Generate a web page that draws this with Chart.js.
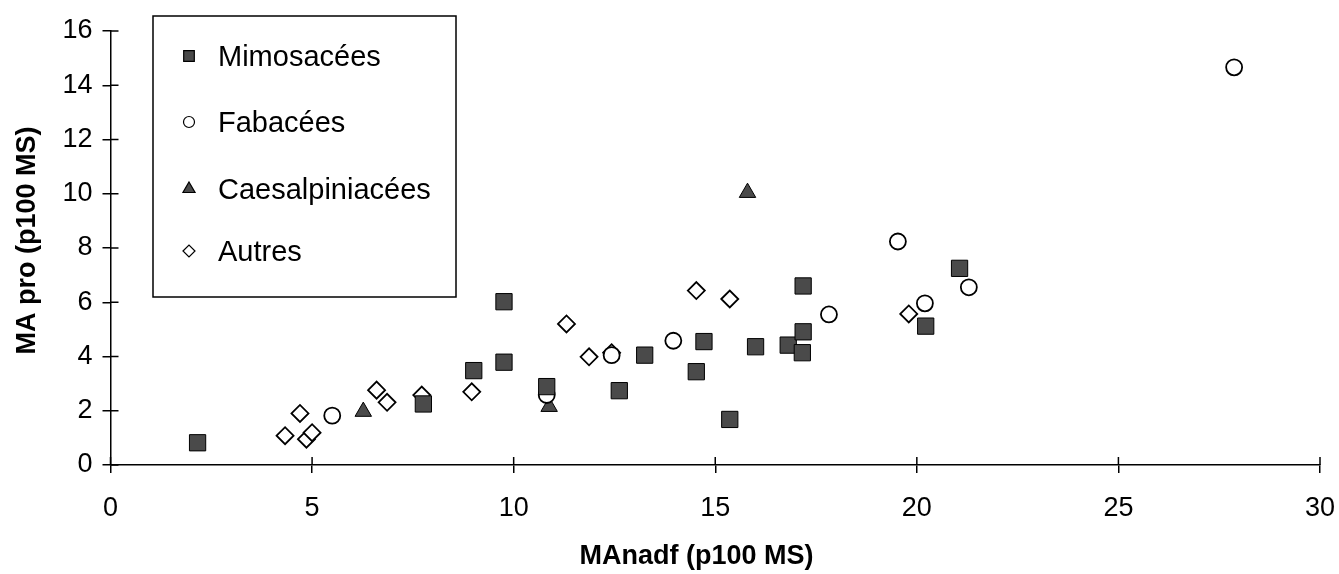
<!DOCTYPE html>
<html>
<head>
<meta charset="utf-8">
<script src="https://cdn.jsdelivr.net/npm/chart.js@4"></script>
<style>
  html, body { margin: 0; padding: 0; background: #fff; overflow: hidden; }
  #wrap { width: 1339px; height: 574px; }
</style>
</head>
<body>
<div id="wrap"><canvas id="myChart"></canvas></div>
<script>
// données (MAnadf, MA pro)
const mimoX = [2.16, 7.76, 9.01, 9.76, 9.76, 10.82, 12.62, 13.25, 14.53, 14.72, 15.36, 16.0, 16.81, 17.18, 17.18, 17.16, 21.06, 20.22];
const mimoY = [0.82, 2.25, 3.48, 6.02, 3.79, 2.89, 2.74, 4.05, 3.44, 4.55, 1.68, 4.36, 4.42, 6.60, 4.91, 4.14, 7.25, 5.12];

const fabaX = [5.50, 10.82, 12.43, 13.96, 17.82, 19.53, 20.20, 21.29, 27.87];
const fabaY = [1.82, 2.58, 4.05, 4.58, 5.55, 8.24, 5.96, 6.55, 14.66];

const caesX = [6.27, 10.88, 15.80];
const caesY = [1.97, 2.15, 10.04];

const autX = [4.33, 4.70, 4.86, 5.00, 6.60, 6.86, 7.72, 8.96, 11.31, 11.87, 12.43, 14.53, 15.36, 19.80];
const autY = [1.08, 1.90, 0.95, 1.19, 2.76, 2.31, 2.58, 2.70, 5.20, 3.99, 4.14, 6.43, 6.12, 5.57];

const labels = ["Mimosacées", "Fabacées", "Caesalpiniacées", "Autres"];

const xTicks = [0, 5, 10, 15, 20, 25, 30];
const yTicks = [0, 2, 4, 6, 8, 10, 12, 14, 16];

const toPts = (xs, ys) => xs.map((x, i) => ({ x: x, y: ys[i] }));

const FONT = "'Liberation Sans', Arial, sans-serif";

// ticks qui traversent l'axe + légende encadrée
const extras = {
  id: 'extras',
  afterDraw(chart) {
    const ctx = chart.ctx;
    const xs = chart.scales.x, ys = chart.scales.y;
    const area = chart.chartArea;
    ctx.save();
    ctx.strokeStyle = '#000';
    ctx.lineWidth = 1.5;
    xTicks.forEach(v => {
      const px = xs.getPixelForValue(v);
      ctx.beginPath(); ctx.moveTo(px, area.bottom - 8); ctx.lineTo(px, area.bottom); ctx.stroke();
    });
    yTicks.forEach(v => {
      const py = ys.getPixelForValue(v);
      ctx.beginPath(); ctx.moveTo(area.left, py); ctx.lineTo(area.left + 8, py); ctx.stroke();
    });

    // légende
    const bx = 153, by = 16, bw = 303, bh = 281;
    ctx.lineWidth = 1.5;
    ctx.fillStyle = '#fff';
    ctx.fillRect(bx, by, bw, bh);
    ctx.strokeRect(bx, by, bw, bh);
    const rows = [56, 122, 189, 251];
    chart.data.datasets.forEach((ds, i) => {
      ctx.fillStyle = ds.backgroundColor;
      ctx.strokeStyle = '#000';
      ctx.lineWidth = 1.2;
      Chart.helpers.drawPoint(ctx, { pointStyle: ds.pointStyle, radius: ds.legendRadius, borderWidth: 1.2 }, 189, rows[i]);
      ctx.fillStyle = '#000';
      ctx.font = '29px ' + FONT;
      ctx.textBaseline = 'middle';
      ctx.textAlign = 'left';
      ctx.fillText(ds.label, 218, rows[i] + 2);
    });
    ctx.restore();
  }
};

const ctx = document.getElementById('myChart');

new Chart(ctx, {
  type: 'scatter',
  data: {
    datasets: [
      { label: labels[0], data: toPts(mimoX, mimoY), pointStyle: 'rect', pointRadius: 11.5, legendRadius: 7.5,
        backgroundColor: '#4a4a4a', borderColor: '#000', borderWidth: 1 },
      { label: labels[1], data: toPts(fabaX, fabaY), pointStyle: 'circle', pointRadius: 8, legendRadius: 5.5,
        backgroundColor: '#fff', borderColor: '#000', borderWidth: 1.8 },
      { label: labels[2], data: toPts(caesX, caesY), pointStyle: 'triangle', pointRadius: 9.5, legendRadius: 7,
        backgroundColor: '#4a4a4a', borderColor: '#000', borderWidth: 1 },
      { label: labels[3], data: toPts(autX, autY), pointStyle: 'rectRot', pointRadius: 8.5, legendRadius: 6,
        backgroundColor: '#fff', borderColor: '#000', borderWidth: 1.8 }
    ]
  },
  options: {
    responsive: true,
    maintainAspectRatio: false,
    animation: false,
    layout: { padding: { top: 31, right: 19, left: 0, bottom: 0 } },
    plugins: {
      legend: { display: false },
      tooltip: { enabled: false }
    },
    scales: {
      x: {
        type: 'linear',
        min: 0, max: 30,
        afterFit: s => { s.height = 109; s.paddingLeft = 0; s.paddingRight = 0; },
        afterBuildTicks: s => { s.ticks = xTicks.map(v => ({ value: v })); },
        border: { color: '#000', width: 1.5 },
        grid: { drawOnChartArea: false, color: '#000', lineWidth: 1.5, tickLength: 8 },
        ticks: { color: '#000', padding: 19, font: { family: FONT, size: 27 }, maxRotation: 0 },
        title: { display: true, text: 'MAnadf (p100 MS)     ', color: '#000',
          font: { family: FONT, size: 27, weight: 'bold' }, padding: { top: 0, bottom: 1 } }
      },
      y: {
        type: 'linear',
        min: 0, max: 16,
        afterFit: s => { s.width = 110.5; },
        afterBuildTicks: s => { s.ticks = yTicks.map(v => ({ value: v })); },
        border: { color: '#000', width: 1.5 },
        grid: { drawOnChartArea: false, color: '#000', lineWidth: 1.5, tickLength: 8 },
        ticks: { color: '#000', padding: 10, font: { family: FONT, size: 27 } },
        title: { display: true, text: '  MA pro (p100 MS)', color: '#000',
          font: { family: FONT, size: 27, weight: 'bold' }, padding: { top: 11, bottom: 0 } }
      }
    }
  },
  plugins: [extras]
});
</script>
</body>
</html>
